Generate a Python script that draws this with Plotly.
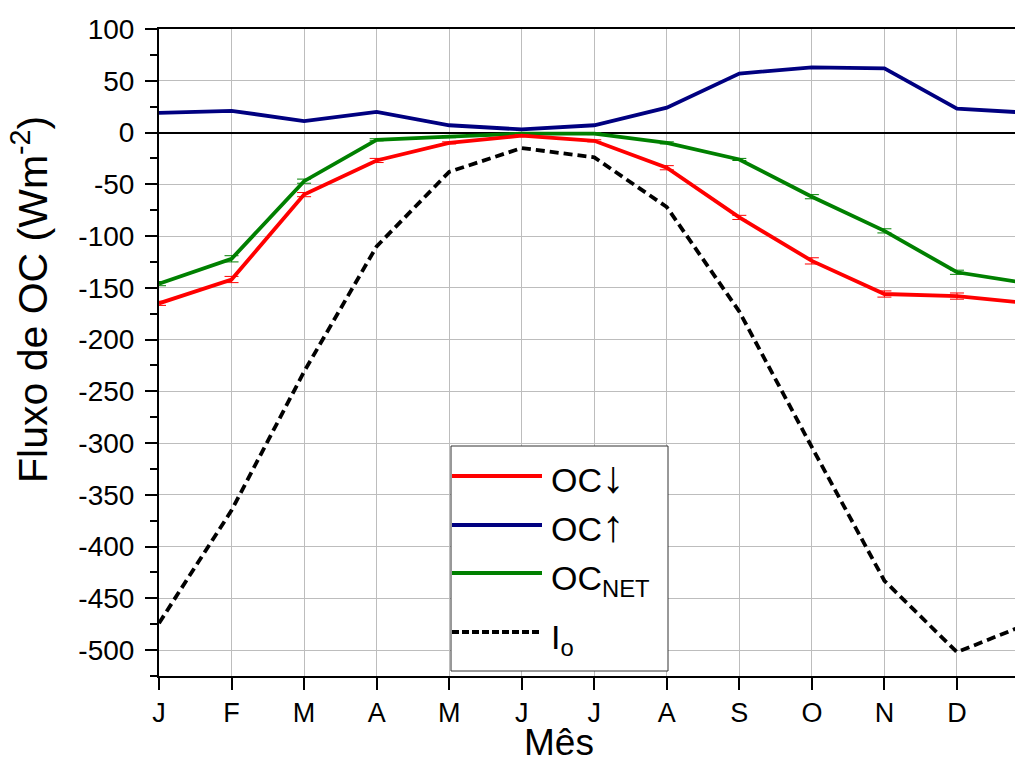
import plotly.graph_objects as go

# ---- data ----
months = ["J", "F", "M", "A", "M", "J", "J", "A", "S", "O", "N", "D", "J"]
oc_down = [-165, -142, -60, -27, -10, -3, -8, -34, -82, -124, -156, -158, -165]
oc_up = [19, 21, 11, 20, 7, 3, 7, 24, 57, 63, 62, 23, 19]
oc_net = [-146, -122, -47, -7, -4, -1, -1, -10, -26, -62, -95, -135, -146]
io = [-474, -365, -231, -110, -38, -15, -24, -72, -173, -304, -433, -502, -474]
err_down = [2, 3, 2, 2, 1, 1, 1, 2, 2, 3, 3, 3, 2]
err_net = [2, 3, 2, 1, 1, 1, 1, 1, 1, 2, 2, 2, 2]
x_tick_labels = months[:12]
y_tick_vals = [100, 50, 0, -50, -100, -150, -200, -250, -300, -350, -400, -450, -500]
y_tick_text = ["100", "50", "0", "-50", "-100", "-150", "-200", "-250", "-300",
               "-350", "-400", "-450", "-500"]

x = list(range(len(months)))

W, H = 1015, 765
L, R, T, B = 159, 0, 29, 89
PW, PH = W - L - R, H - T - B


def px(xp):
    return (xp - L) / PW


def py(yp):
    return (H - B - yp) / PH


font = "Liberation Sans, Arial, sans-serif"

fig = go.Figure()
fig.add_trace(go.Scatter(x=x, y=io, mode="lines", name="I<sub>o</sub>",
                         line=dict(color="black", width=3.8, dash="9px,5px")))
fig.add_trace(go.Scatter(x=x, y=oc_up, mode="lines", name="OC↑",
                         line=dict(color="#000080", width=3.8)))
fig.add_trace(go.Scatter(x=x, y=oc_net, mode="lines", name="OC<sub>NET</sub>",
                         line=dict(color="#008000", width=3.8),
                         error_y=dict(type="data", array=err_net, color="#008000",
                                      thickness=1, width=7)))
fig.add_trace(go.Scatter(x=x, y=oc_down, mode="lines", name="OC↓",
                         line=dict(color="#FF0000", width=3.8),
                         error_y=dict(type="data", array=err_down, color="#FF0000",
                                      thickness=1, width=7)))

shapes = []
annotations = []

# legend box (drawn by hand to match the reference's long line samples)
shapes.append(dict(type="rect", xref="paper", yref="paper",
                   x0=px(451), x1=px(668), y0=py(671), y1=py(446),
                   fillcolor="white", line=dict(color="#333333", width=1), layer="above"))
arrow = '<span style="font-size:45px">{}</span>'
legend_rows = [
    ("OC" + arrow.format("↓"), dict(color="#FF0000", width=3.8), 476, 0),
    ("OC" + arrow.format("↑"), dict(color="#000080", width=3.8), 525, 0),
    ("OC<sub>NET</sub>", dict(color="#008000", width=3.8), 573, 7),
    ("I<sub>o</sub>", dict(color="black", width=3.8, dash="7px,3px"), 632, 7),
]
for label, ln, yy, yoff in legend_rows:
    shapes.append(dict(type="line", xref="paper", yref="paper",
                       x0=px(452), x1=px(542), y0=py(yy), y1=py(yy),
                       line=ln, layer="above"))
    annotations.append(dict(xref="paper", yref="paper", x=px(549), y=py(yy + yoff),
                            xanchor="left", yanchor="middle", showarrow=False,
                            text=label, font=dict(family=font, size=34, color="black")))

# axis titles
annotations.append(dict(xref="paper", yref="paper", x=px(30), y=py(300),
                        xanchor="center", yanchor="middle", showarrow=False,
                        textangle=-90, text="Fluxo de OC (Wm<sup>-2</sup>)",
                        font=dict(family=font, size=41, color="black")))
annotations.append(dict(xref="paper", yref="paper", x=px(559), y=py(765),
                        xanchor="center", yanchor="bottom", showarrow=False,
                        text="Mês", font=dict(family=font, size=37, color="black")))

fig.update_layout(
    width=W, height=H,
    margin=dict(l=L, r=R, t=T, b=B),
    paper_bgcolor="white", plot_bgcolor="white",
    showlegend=False,
    font=dict(family=font, color="black"),
    shapes=shapes, annotations=annotations,
)
fig.update_xaxes(
    range=[0, 11.8], tickmode="array", tickvals=list(range(12)), ticktext=x_tick_labels,
    showgrid=True, gridcolor="#bdbdbd", gridwidth=1,
    showline=True, linecolor="black", linewidth=2, mirror=True,
    ticks="outside", ticklen=12, tickwidth=2, tickcolor="black",
    tickfont=dict(family=font, size=27, color="black"), zeroline=False,
)
fig.update_yaxes(
    range=[-525, 100], tickmode="array", tickvals=y_tick_vals, ticktext=y_tick_text,
    showgrid=True, gridcolor="#bdbdbd", gridwidth=1,
    showline=True, linecolor="black", linewidth=2, mirror=False,
    ticks="outside", ticklen=12, tickwidth=2, tickcolor="black", ticklabelstandoff=5,
    tickfont=dict(family=font, size=28, color="black"),
    zeroline=True, zerolinecolor="black", zerolinewidth=1.5,
    minor=dict(tickmode="linear", tick0=0, dtick=25, ticks="outside", ticklen=7,
               tickwidth=2, tickcolor="black", showgrid=False),
)

fig.write_html("out.html", config={"displayModeBar": False},
               post_script="document.body.style.margin='0';document.body.style.overflow='hidden';")
